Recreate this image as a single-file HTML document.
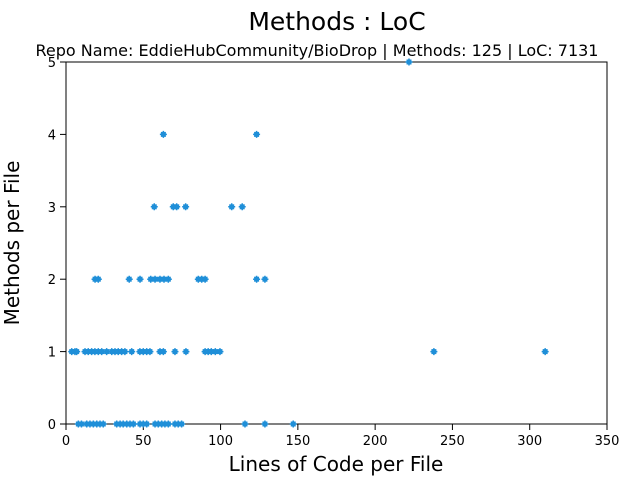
<!DOCTYPE html>
<html><head><meta charset="utf-8"><style>
body{margin:0;background:#fff;}
svg{display:block;font-family:"DejaVu Sans","Liberation Sans",sans-serif;}
</style></head><body>
<svg id="chart" width="640" height="480">
<text x="337" y="30" font-size="25" text-anchor="middle">Methods : LoC</text>
<text x="317" y="56" font-size="16" text-anchor="middle">Repo Name: EddieHubCommunity/BioDrop | Methods: 125 | LoC: 7131</text>
<rect x="66" y="62" width="541" height="362" fill="none" stroke="#000" stroke-width="1"/>
<g id="ticks"></g>
<g id="points"></g>
<text x="336" y="471" font-size="20" text-anchor="middle">Lines of Code per File</text>
<text transform="translate(19,243) rotate(-90)" font-size="20" text-anchor="middle">Methods per File</text>
</svg>
<script>
const xTicks=[0,50,100,150,200,250,300,350];
const yTicks=[0,1,2,3,4,5];
const loc1=[3.7,5.8,6.9,12.3,14.4,16.6,18.7,20.9,23.1,26.3,29.6,31.7,33.8,36,38.1,42.5,47.8,50,52.2,54.3,60.8,63,70.5,77.6,90,92,94,96.6,99.6,238,310];
const loc0=[8,10,13.4,15.5,17.7,19.9,22,24.1,32.8,35,37,39.3,41.4,43.6,47.9,50,52.2,57.6,59.7,61.9,64,66.2,70.5,72.6,74.8,115.8,128.7,147];
const loc2=[18.8,20.9,40.9,47.9,54.8,57.6,60.8,63.4,66.2,85.6,87.8,90,123.3,128.7];
const loc3=[57.1,69.4,71.6,77.4,107.2,114];
const loc4=[63,123.3];
const loc5=[221.9];
const ns="http://www.w3.org/2000/svg";
const X=v=>66+v*(541/350), Y=v=>424-v*(362/5);
const tg=document.getElementById('ticks');
function mk(t,a,p){const e=document.createElementNS(ns,t);for(const k in a)e.setAttribute(k,a[k]);p.appendChild(e);return e;}
xTicks.forEach(v=>{mk('line',{x1:X(v),x2:X(v),y1:424,y2:430,stroke:'#000'},tg);
 const t=mk('text',{x:X(v),y:445,'font-size':13,'text-anchor':'middle'},tg);t.textContent=v;
 
 });
yTicks.forEach(v=>{mk('line',{x1:60,x2:66,y1:Y(v),y2:Y(v),stroke:'#000'},tg);
 const t=mk('text',{x:56,y:Y(v)+5,'font-size':13,'text-anchor':'end'},tg);t.textContent=v;
 
 });
const pg=document.getElementById('points');
[[loc0,0],[loc1,1],[loc2,2],[loc3,3],[loc4,4],[loc5,5]].forEach(([arr,m])=>{
 arr.forEach(v=>{const g=mk('g',{},pg);
  
  
  const cx=X(v),cy=Y(m);
  mk('rect',{x:cx-2.5,y:cy-2.5,width:5,height:5,fill:'#1f8fd8'},g);
  mk('path',{d:`M${cx-3.5} ${cy}H${cx+3.5}M${cx} ${cy-3.5}V${cy+3.5}`,stroke:'#1f8fd8','stroke-width':1.5},g);
 });});
</script>
</body></html>
